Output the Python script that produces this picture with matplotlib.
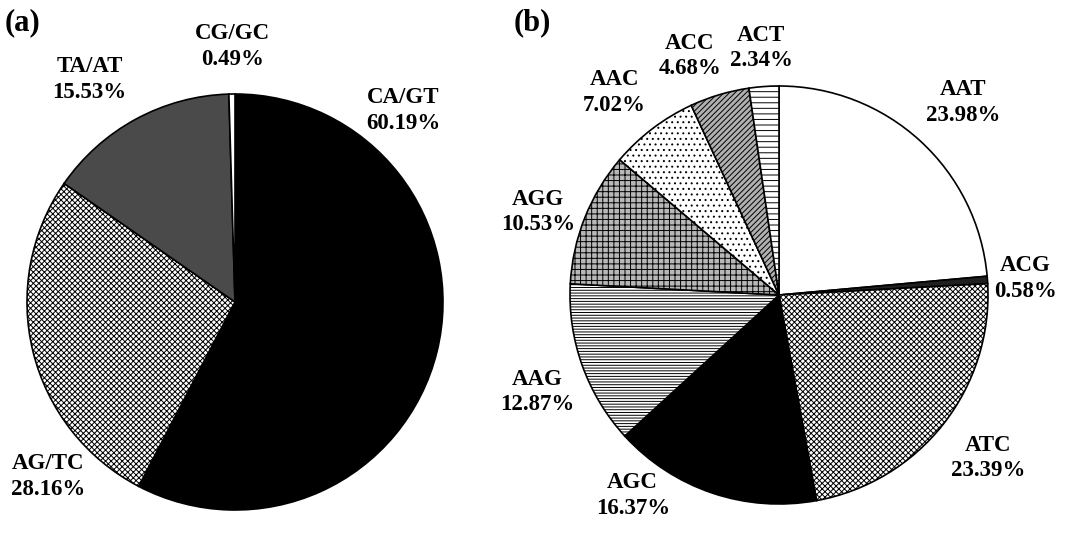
import matplotlib
matplotlib.use("Agg")
import matplotlib.pyplot as plt

# ---- data ----
a_labels = ["CA/GT", "AG/TC", "TA/AT", "CG/GC"]
a_values = [60.19, 28.16, 15.53, 0.49]

b_labels = ["AAT", "ACG", "ATC", "AGC", "AAG", "AGG", "AAC", "ACC", "ACT"]
b_values = [23.98, 0.58, 23.39, 16.37, 12.87, 10.53, 7.02, 4.68, 2.34]

# ---- styles ----
a_faces = ["black", "white", "#4a4a4a", "white"]
a_hatches = [None, "xxxxxx", None, None]
a_label_pos = [(0.81, 0.92), (-0.90, -0.84), (-0.70, 1.07), (-0.01, 1.23)]

b_faces = ["white", "#202020", "white", "black", "white", "#b8b8b8", "white", "#b0b0b0", "white"]
b_hatches = [None, None, "xxxxxx", None, "------", "+++", "...", "//////", "---"]
b_label_pos = [(0.88, 0.92), (1.18, 0.08), (1.00, -0.78), (-0.70, -0.96),
               (-1.158, -0.464), (-1.153, 0.397), (-0.789, 0.967), (-0.426, 1.144),
               (-0.086, 1.182)]

plt.rcParams["hatch.linewidth"] = 0.7
font = dict(family="Liberation Serif", fontweight="bold", fontsize=16.5)

W, H = 1074, 534
fig = plt.figure(figsize=(W / 100, H / 100), dpi=100)


def make_axes(cx, cy, r):
    return fig.add_axes([(cx - r) / W, (H - cy - r) / H, 2 * r / W, 2 * r / H])


def draw_pie(ax, values, labels, faces, hatches, label_pos):
    wedges, _ = ax.pie(values, startangle=90, counterclock=False, radius=1,
                       colors=faces,
                       wedgeprops=dict(edgecolor="black", linewidth=1.2))
    for w, h in zip(wedges, hatches):
        if h:
            w.set_hatch(h)
    for (x, y), lab, v in zip(label_pos, labels, values):
        ax.text(x, y, f"{lab}\n{v:.2f}%", ha="center", va="center",
                linespacing=1.3, **font)
    ax.set_xlim(-1.0, 1.0)
    ax.set_ylim(-1.0, 1.0)
    ax.set_aspect("auto")
    ax.axis("off")


ax_a = make_axes(235, 302, 208)
draw_pie(ax_a, a_values, a_labels, a_faces, a_hatches, a_label_pos)

ax_b = make_axes(779, 295, 209)
draw_pie(ax_b, b_values, b_labels, b_faces, b_hatches, b_label_pos)

fig.text(5 / W, 1 - 23 / H, "(a)", ha="left", va="center",
         family="Liberation Serif", fontweight="bold", fontsize=22)
fig.text(514 / W, 1 - 23 / H, "(b)", ha="left", va="center",
         family="Liberation Serif", fontweight="bold", fontsize=22)

fig.savefig("out.png", dpi=100, facecolor="white")
